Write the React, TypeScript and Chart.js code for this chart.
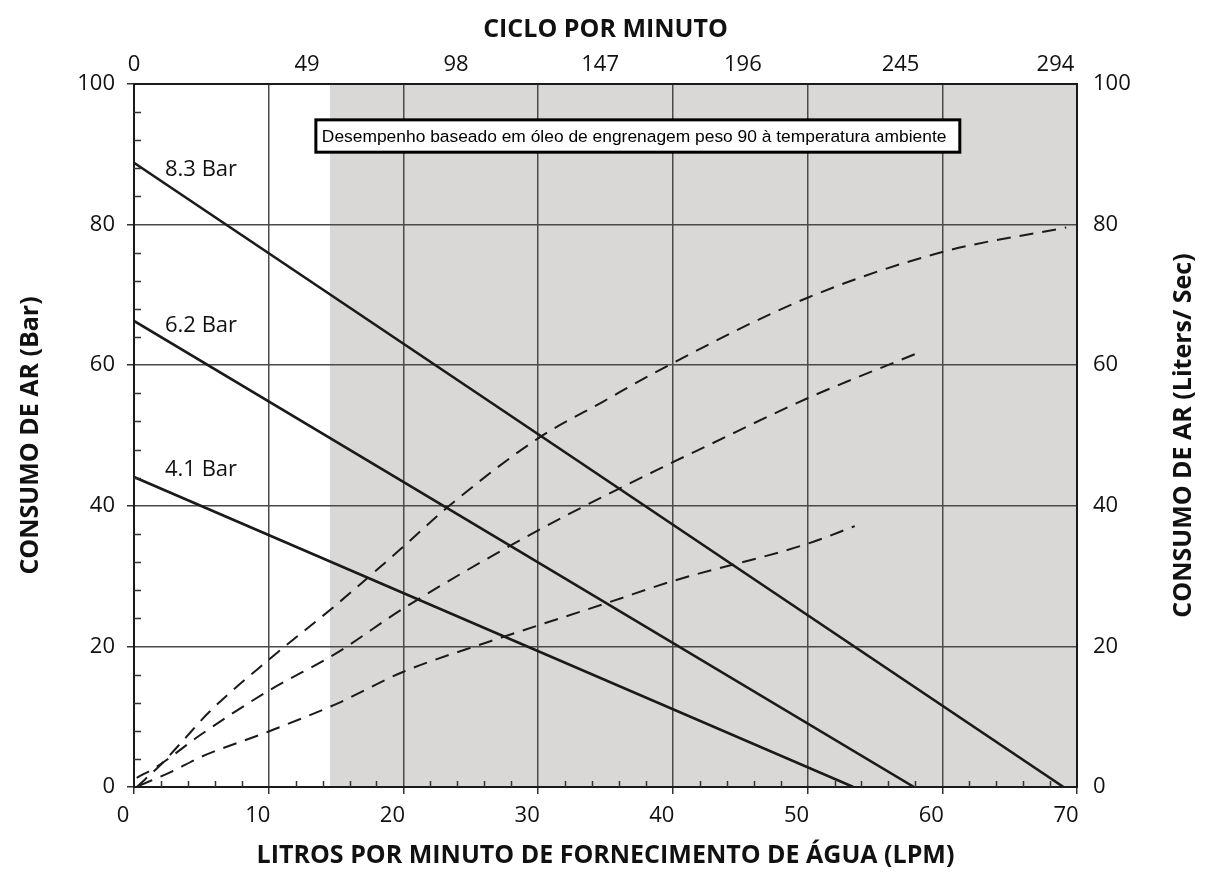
import React, { useEffect, useRef } from 'react';
import { Chart, registerables } from 'chart.js';

Chart.register(...registerables);

// ---- axis ticks / labels ----
const lpmTicks = [0, 10, 20, 30, 40, 50, 60, 70];
const barTicks = [0, 20, 40, 60, 80, 100];
const cycleLabels = ['0', '49', '98', '147', '196', '245', '294'];
const cyclePositions = [0, 12.85, 23.9, 34.6, 45.2, 56.9, 68.4];

// ---- pressure (solid) lines, left axis (Bar) ----
const bar83X = [0, 69.0];
const bar83Y = [88.8, 0];
const bar62X = [0, 57.9];
const bar62Y = [66.3, 0];
const bar41X = [0, 53.4];
const bar41Y = [44.1, 0];

// ---- air consumption (dashed) curves, right axis (Liters/Sec) ----
const air83X = [0.2, 2.0, 3.5, 5.6, 10, 15, 20, 23.4, 30, 34.8, 39.3, 50, 60, 69.2];
const air83Y = [0, 3.2, 6.3, 10.7, 18.1, 25.9, 34.2, 40, 49.6, 54.8, 59.6, 69.6, 76.1, 79.6];
const air62X = [0.2, 1.7, 5, 10, 15, 20, 30, 40, 42.4, 50, 58.0];
const air62Y = [1.3, 2.9, 7.5, 13.7, 19.0, 25.4, 36.5, 46.2, 48.4, 55.3, 61.6];
const air41X = [0.4, 2.8, 5, 10, 15, 20, 26.4, 35.3, 40, 50, 53.5];
const air41Y = [0.2, 2.2, 4.3, 7.9, 11.8, 16.4, 20.7, 26.3, 29.3, 34.6, 37.1];

// ---- labels ----
const pressureLabels = ['8.3 Bar', '6.2 Bar', '4.1 Bar'];
const pressureLabelX = [2.3, 2.3, 2.3];
const pressureLabelY = [87.8, 65.6, 45.1];
const noteText = 'Desempenho baseado em óleo de engrenagem peso 90 à temperatura ambiente';
const shadeFrom = 14.55;
const shadeTo = 70;

const zip = (xs: number[], ys: number[]) => xs.map((x, i) => ({ x, y: ys[i] }));

const FONT = "'Open Sans', 'Noto Sans', sans-serif";
const GRID = '#4a4a4a';
const INK = '#111111';

const decorPlugin = {
  id: 'decor',
  beforeDraw(chart: any) {
    const { ctx, chartArea } = chart;
    const x = chart.scales.x;
    ctx.save();
    ctx.fillStyle = '#d9d8d7';
    const x0 = x.getPixelForValue(shadeFrom);
    const x1 = x.getPixelForValue(shadeTo);
    ctx.fillRect(x0, chartArea.top, x1 - x0, chartArea.bottom - chartArea.top);
    ctx.restore();
  },
  afterDraw(chart: any) {
    const { ctx, chartArea } = chart;
    const x = chart.scales.x;
    const y = chart.scales.y;
    ctx.save();
    // minor ticks (inside)
    ctx.strokeStyle = '#333';
    ctx.lineWidth = 1.5;
    ctx.beginPath();
    for (let v = 4; v < 100; v += 4) {
      if (v % 20 === 0) continue;
      const py = Math.round(y.getPixelForValue(v)) + 0.5;
      ctx.moveTo(chartArea.left, py);
      ctx.lineTo(chartArea.left + 7, py);
    }
    for (let v = 2; v < 70; v += 2) {
      if (v % 10 === 0) continue;
      const px = Math.round(x.getPixelForValue(v)) + 0.5;
      ctx.moveTo(px, chartArea.bottom);
      ctx.lineTo(px, chartArea.bottom - 6);
    }
    ctx.stroke();

    // note box
    const bx0 = x.getPixelForValue(13.5);
    const bx1 = x.getPixelForValue(61.3);
    const by0 = y.getPixelForValue(94.9);
    const by1 = y.getPixelForValue(90.3);
    ctx.fillStyle = '#ffffff';
    ctx.fillRect(bx0, by0, bx1 - bx0, by1 - by0);
    ctx.strokeStyle = '#000';
    ctx.lineWidth = 3;
    ctx.strokeRect(bx0, by0, bx1 - bx0, by1 - by0);
    ctx.fillStyle = '#000';
    ctx.font = "17.4px 'Liberation Sans', Arial, sans-serif";
    ctx.textAlign = 'left';
    ctx.textBaseline = 'middle';
    ctx.fillText(noteText, bx0 + 6, (by0 + by1) / 2 + 1);

    // pressure labels
    ctx.font = `22px ${FONT}`;
    ctx.fillStyle = INK;
    pressureLabels.forEach((t, i) => {
      ctx.fillText(t, x.getPixelForValue(pressureLabelX[i]), y.getPixelForValue(pressureLabelY[i]));
    });

    // right axis title (reads bottom-to-top)
    ctx.translate(chart.width - 24, (chartArea.top + chartArea.bottom) / 2);
    ctx.rotate(-Math.PI / 2);
    ctx.textAlign = 'center';
    ctx.textBaseline = 'middle';
    ctx.font = `bold 25px ${FONT}`;
    ctx.fillText('CONSUMO DE AR (Liters/ Sec)', 0, 0);
    ctx.restore();
  },
};

export default function App() {
  const ref = useRef<HTMLCanvasElement | null>(null);

  useEffect(() => {
    if (!ref.current) return;
    Chart.defaults.font.family = FONT;
    const solid = (label: string, data: any) => ({
      label,
      data,
      yAxisID: 'y',
      borderColor: '#1a1a1a',
      borderWidth: 2.6,
      pointRadius: 0,
      fill: false,
      tension: 0,
    });
    const dashed = (label: string, data: any) => ({
      label,
      data,
      yAxisID: 'y2',
      borderColor: '#1a1a1a',
      borderWidth: 2,
      borderDash: [14, 9],
      pointRadius: 0,
      fill: false,
      cubicInterpolationMode: 'monotone',
    });
    const tickFont = { family: FONT, size: 22 };
    const titleFont = { family: FONT, size: 25, weight: 'bold' as const };

    const chart = new Chart(ref.current, {
      type: 'line',
      data: {
        datasets: [
          solid('8.3 Bar', zip(bar83X, bar83Y)),
          solid('6.2 Bar', zip(bar62X, bar62Y)),
          solid('4.1 Bar', zip(bar41X, bar41Y)),
          dashed('Ar 8.3 Bar', zip(air83X, air83Y)),
          dashed('Ar 6.2 Bar', zip(air62X, air62Y)),
          dashed('Ar 4.1 Bar', zip(air41X, air41Y)),
        ] as any,
      },
      options: {
        animation: false,
        responsive: false,
        devicePixelRatio: 1,
        layout: { padding: 0 },
        plugins: { legend: { display: false }, tooltip: { enabled: false } },
        scales: {
          x: {
            type: 'linear',
            position: 'bottom',
            min: 0,
            max: 70,
            afterBuildTicks: (s: any) => {
              s.ticks = lpmTicks.map((v) => ({ value: v }));
            },
            afterFit: (s: any) => {
              s.height = 101;
            },
            ticks: { font: tickFont, color: INK, padding: 9, labelOffset: -11, maxRotation: 0, autoSkip: false },
            grid: { color: GRID, lineWidth: 1.5, tickLength: 7, tickColor: '#333', tickWidth: 1.5 },
            border: { color: '#1a1a1a', width: 2 },
            title: {
              display: true,
              text: 'LITROS POR MINUTO DE FORNECIMENTO DE ÁGUA (LPM)',
              font: titleFont,
              color: INK,
              padding: { top: 0, bottom: 17 },
            },
          },
          x2: {
            type: 'linear',
            position: 'top',
            min: 0,
            max: 70,
            afterBuildTicks: (s: any) => {
              s.ticks = cyclePositions.map((v) => ({ value: v }));
            },
            afterFit: (s: any) => {
              s.height = 84;
            },
            ticks: {
              font: tickFont,
              color: INK,
              padding: 6,
              maxRotation: 0,
              autoSkip: false,
              callback: (_v: any, i: number) => cycleLabels[i],
            },
            grid: { drawOnChartArea: false, drawTicks: false },
            border: { color: '#1a1a1a', width: 2 },
            title: {
              display: true,
              text: 'CICLO POR MINUTO',
              font: titleFont,
              color: INK,
              padding: { top: 15, bottom: 0 },
            },
          },
          y: {
            type: 'linear',
            position: 'left',
            min: 0,
            max: 100,
            afterBuildTicks: (s: any) => {
              s.ticks = barTicks.map((v) => ({ value: v }));
            },
            afterFit: (s: any) => {
              s.width = 134;
            },
            ticks: { font: tickFont, color: INK, padding: 12 },
            grid: { color: GRID, lineWidth: 1.5, tickLength: 7, tickColor: '#333', tickWidth: 1.5 },
            border: { color: '#1a1a1a', width: 2 },
            title: {
              display: true,
              text: 'CONSUMO DE AR (Bar)',
              font: titleFont,
              color: INK,
              padding: { top: 16, bottom: 0 },
            },
          },
          y2: {
            type: 'linear',
            position: 'right',
            min: 0,
            max: 100,
            afterBuildTicks: (s: any) => {
              s.ticks = barTicks.map((v) => ({ value: v }));
            },
            afterFit: (s: any) => {
              s.width = 131;
            },
            ticks: { font: tickFont, color: INK, padding: 16 },
            grid: { drawOnChartArea: false, drawTicks: false },
            border: { color: '#1a1a1a', width: 2 },
          },
        },
      } as any,
      plugins: [decorPlugin],
    });
    return () => chart.destroy();
  }, []);

  return (
    <div style={{ position: 'absolute', left: 0, top: 0, width: 1208, height: 888, background: '#fff' }}>
      <canvas ref={ref} width={1208} height={888} />
    </div>
  );
}
